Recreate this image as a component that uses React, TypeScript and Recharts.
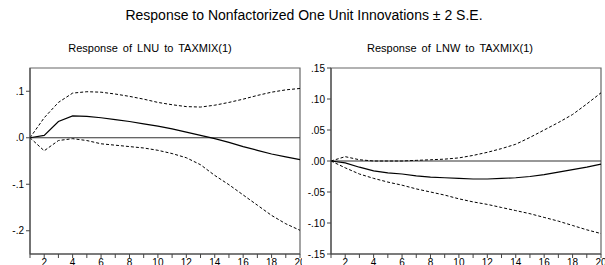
import React from 'react'
import { LineChart, Line, XAxis, YAxis, ReferenceLine, ReferenceArea } from 'recharts'

const periods = [1, 2, 3, 4, 5, 6, 7, 8, 9, 10, 11, 12, 13, 14, 15, 16, 17, 18, 19, 20];

// Response of LNU to TAXMIX(1)
const lnuResp = [0, 0.005, 0.035, 0.047, 0.046, 0.043, 0.039, 0.035, 0.030, 0.025, 0.019, 0.012, 0.005, -0.002, -0.010, -0.019, -0.027, -0.035, -0.041, -0.047];
const lnuUpper = [0, 0.043, 0.076, 0.096, 0.099, 0.098, 0.094, 0.089, 0.083, 0.076, 0.071, 0.067, 0.066, 0.070, 0.076, 0.083, 0.091, 0.098, 0.103, 0.106];
const lnuLower = [0, -0.028, -0.006, -0.002, -0.006, -0.013, -0.016, -0.019, -0.022, -0.027, -0.034, -0.043, -0.058, -0.081, -0.101, -0.123, -0.145, -0.167, -0.185, -0.199];

// Response of LNW to TAXMIX(1)
const lnwResp = [0, -0.003, -0.010, -0.016, -0.019, -0.021, -0.024, -0.026, -0.027, -0.028, -0.029, -0.029, -0.028, -0.027, -0.025, -0.022, -0.018, -0.014, -0.010, -0.005];
const lnwUpper = [0, 0.007, 0.002, 0.000, 0.000, 0.000, 0.001, 0.002, 0.003, 0.005, 0.009, 0.014, 0.020, 0.027, 0.038, 0.050, 0.062, 0.075, 0.092, 0.110];
const lnwLower = [0, -0.011, -0.021, -0.028, -0.034, -0.039, -0.045, -0.050, -0.055, -0.061, -0.066, -0.070, -0.075, -0.080, -0.085, -0.091, -0.097, -0.104, -0.111, -0.117];

const leftTicks = [0.1, 0, -0.1, -0.2];
const leftLabels = ['.1', '.0', '-.1', '-.2'];
const rightTicks = [0.15, 0.1, 0.05, 0, -0.05, -0.1, -0.15];
const rightLabels = ['.15', '.10', '.05', '.00', '-.05', '-.10', '-.15'];

const font = '"Liberation Sans", Arial, sans-serif';

function build(resp: number[], up: number[], lo: number[]) {
  return periods.map((p, i) => ({ p, resp: resp[i], up: up[i], lo: lo[i] }));
}

function Panel(props: {
  data: any[]; domain: [number, number]; ticks: number[]; labels: string[];
  width: number; yWidth: number; right: number;
}) {
  const { data, domain, ticks, labels, width, yWidth, right } = props;
  const tickStyle = { fontSize: 10, fill: '#000', fontFamily: font };
  return (
    <LineChart width={width} height={265} data={data} margin={{ top: 68, right, bottom: 0, left: 0 }}>
      <ReferenceArea x1={1} x2={20} y1={domain[0]} y2={domain[1]} fill="none" stroke="#666" strokeWidth={1.2} />
      <XAxis
        dataKey="p" type="number" domain={[1, 20]} ticks={periods} height={11}
        tickFormatter={(v: number) => (v % 2 === 0 ? String(v) : '')}
        tick={tickStyle} tickSize={4} tickMargin={1} stroke="#444" interval={0}
      />
      <YAxis
        type="number" domain={domain} ticks={ticks} width={yWidth} allowDataOverflow
        tickFormatter={(v: number) => labels[ticks.indexOf(v)] ?? ''}
        tick={tickStyle} tickSize={4} tickMargin={2} stroke="#444" interval={0}
      />
      <ReferenceLine y={0} stroke="#333" strokeWidth={1.2} />
      <Line dataKey="up" type="linear" stroke="#000" strokeWidth={1} strokeDasharray="3 2" dot={false} isAnimationActive={false} />
      <Line dataKey="lo" type="linear" stroke="#000" strokeWidth={1} strokeDasharray="3 2" dot={false} isAnimationActive={false} />
      <Line dataKey="resp" type="linear" stroke="#000" strokeWidth={1.2} dot={false} isAnimationActive={false} />
    </LineChart>
  );
}

export default function App() {
  const lnu = build(lnuResp, lnuUpper, lnuLower);
  const lnw = build(lnwResp, lnwUpper, lnwLower);
  return (
    <div style={{ position: 'absolute', left: 0, top: 0, width: 605, height: 265, overflow: 'hidden', background: '#fff', fontFamily: font }}>
      <div style={{ position: 'absolute', left: 0, top: 7, width: 608, textAlign: 'center', fontSize: 14 }}>
        Response to Nonfactorized One Unit Innovations ± 2 S.E.
      </div>
      <div style={{ position: 'absolute', left: 0, top: 42, width: 300, textAlign: 'center', fontSize: 11, wordSpacing: 2 }}>
        Response of LNU to TAXMIX(1)
      </div>
      <div style={{ position: 'absolute', left: 300, top: 42, width: 300, textAlign: 'center', fontSize: 11, wordSpacing: 2 }}>
        Response of LNW to TAXMIX(1)
      </div>
      <div style={{ position: 'absolute', left: 0, top: 0 }}>
        <Panel data={lnu} domain={[-0.25, 0.15]} ticks={leftTicks} labels={leftLabels} width={302} yWidth={30} right={2} />
      </div>
      <div style={{ position: 'absolute', left: 302, top: 0 }}>
        <Panel data={lnw} domain={[-0.15, 0.15]} ticks={rightTicks} labels={rightLabels} width={303} yWidth={29} right={4} />
      </div>
    </div>
  );
}
